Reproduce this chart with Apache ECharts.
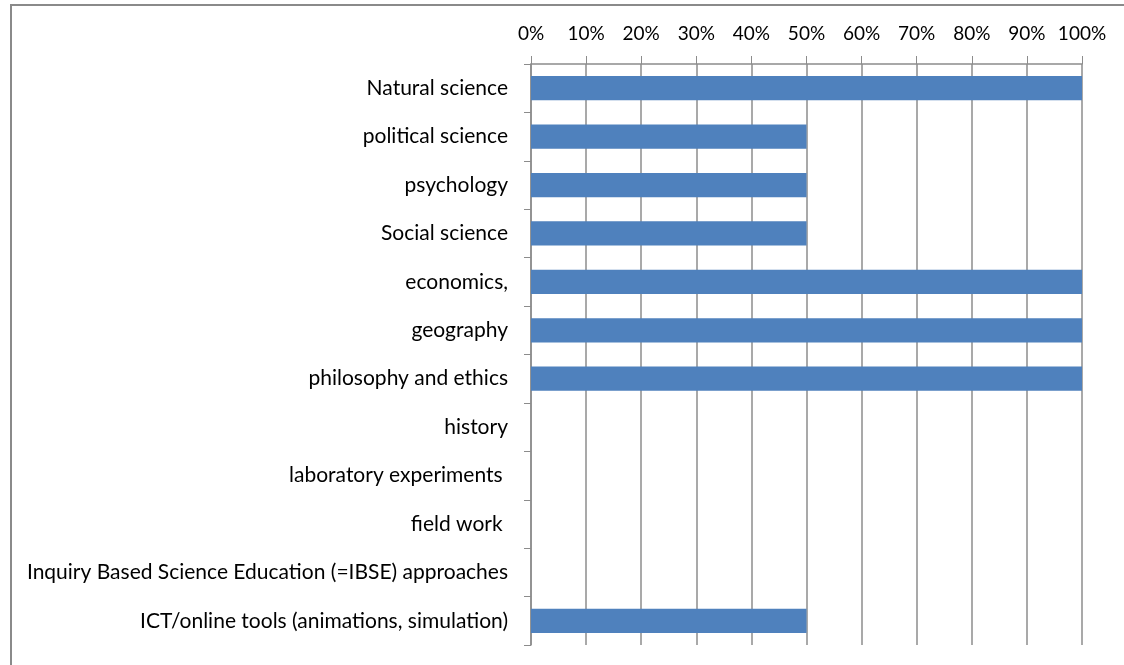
<!DOCTYPE html>
<html>
<head>
<meta charset="utf-8">
<script src="https://cdn.jsdelivr.net/npm/echarts@6/dist/echarts.min.js"></script>
<style>
html,body{margin:0;padding:0;background:#fff;}
#chart{width:1124px;height:665px;}
</style>
</head>
<body>
<div id="chart"></div>
<script>
const categories = [
  "Natural science",
  "political science",
  "psychology",
  "Social science",
  "economics,",
  "geography",
  "philosophy and ethics",
  "history",
  "laboratory experiments ",
  "field work ",
  "Inquiry Based Science Education (=IBSE) approaches",
  "ICT/online tools (animations, simulation)"
];
const values = [100, 50, 50, 50, 100, 100, 100, 0, 0, 0, 0, 50];
const tickLabels = ["0%","10%","20%","30%","40%","50%","60%","70%","80%","90%","100%"];

const chart = echarts.init(document.getElementById('chart'));
const font = 'Lato, "Open Sans", sans-serif';
chart.setOption({
  animation: false,
  graphic: [{
    type: 'rect',
    shape: { x: 11, y: 5, width: 1200, height: 700 },
    style: { fill: 'none', stroke: '#8a8a8a', lineWidth: 2 },
    silent: true
  }],
  grid: { left: 531, right: 42, top: 64, bottom: 20, containLabel: false },
  xAxis: {
    type: 'value',
    position: 'top',
    min: 0, max: 100, interval: 10,
    axisLine: { show: true, lineStyle: { color: '#8c8c8c', width: 1.5 } },
    axisTick: { show: true, length: 8, lineStyle: { color: '#8c8c8c' } },
    splitLine: { show: true, lineStyle: { color: '#8c8c8c', width: 1.5 } },
    axisLabel: {
      formatter: v => tickLabels[Math.round(v / 10)],
      color: '#000', fontFamily: font, fontSize: 19, margin: 21
    }
  },
  yAxis: {
    type: 'category',
    data: categories,
    inverse: true,
    axisLine: { show: true, lineStyle: { color: '#8c8c8c', width: 1.5 } },
    axisTick: { show: true, length: 7, lineStyle: { color: '#8c8c8c' } },
    axisLabel: { color: '#000', fontFamily: font, fontSize: 21, margin: 23 }
  },
  series: [{
    type: 'bar',
    data: values,
    barCategoryGap: '50%',
    itemStyle: { color: '#4F81BD' }
  }]
});
</script>
</body>
</html>
